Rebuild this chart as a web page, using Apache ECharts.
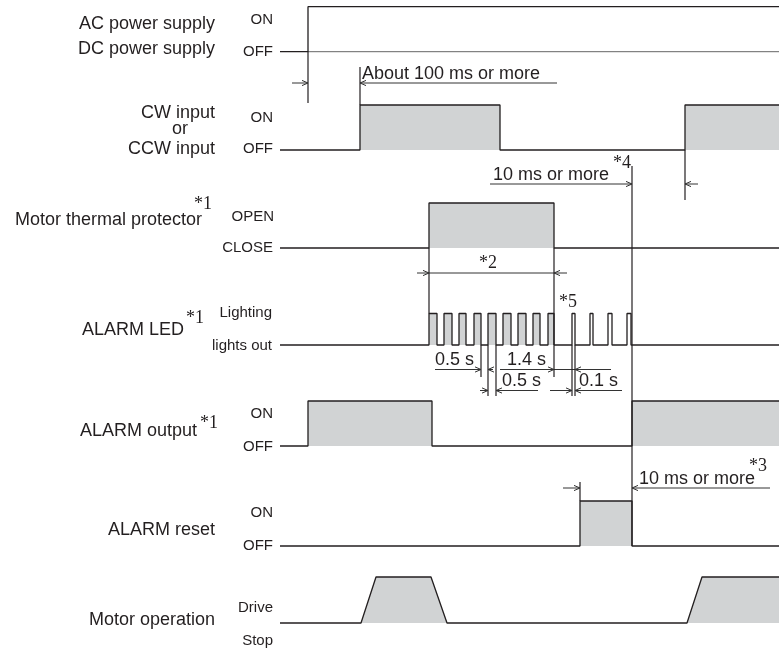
<!DOCTYPE html>
<html><head><meta charset="utf-8">
<script src="https://cdn.jsdelivr.net/npm/echarts@6/dist/echarts.min.js"></script>
<style>html,body{margin:0;padding:0;background:#fff}#c{width:779px;height:650px}</style>
</head><body><div id="c"></div>
<script>
// ================= DATA (time in arbitrary units, level 0 = OFF / CLOSE / lights out / Stop, 1 = ON / OPEN / Lighting / Drive)
const timeRange = [0, 499];
const acPower          = [[0,0],[28,0],[28,1],[499,1]];
const acPowerOffTrace  = [[28,0],[499,0]];
const cwInput          = [[0,0],[80,0],[80,1],[220,1],[220,0],[405,0],[405,1],[499,1]];
const thermalProtector = [[0,0],[149,0],[149,1],[274,1],[274,0],[499,0]];
const ledBlinkRises    = [149,164,179,194,208,223,238,253,268];
const ledBlinkFalls    = [157,172,186,201,216,231,246,260,274];
const ledFlashRises    = [292,310,328,347];
const ledFlashFalls    = [295,313,332,351];
const alarmOutput      = [[0,0],[28,0],[28,1],[152,1],[152,0],[352,0],[352,1],[499,1]];
const alarmReset       = [[0,0],[300,0],[300,1],[352,1],[352,0],[499,0]];
const motorOperation   = [[0,0],[81,0],[96,1],[151,1],[167,0],[407,0],[422,1],[499,1]];

// dimension annotations: times of arrow tips / extents and their texts
const dimTexts = ['About 100 ms or more','10 ms or more','*4','*2','0.5 s','1.4 s','0.5 s','0.1 s','*5','10 ms or more','*3'];

// ================= LAYOUT
const INK = '#231f20', FILL = '#d1d3d4';
const rows = {
  ac:{base:51.7,h:45}, cw:{base:150,h:45}, th:{base:248,h:45}, led:{base:345,h:31.5},
  out:{base:446,h:45}, rst:{base:546,h:45}, mot:{base:623,h:46}
};
// horizontal dimension lines [tStart, tEnd, y]
const dimLines = [[12,28,83],[80,277,83],[210,352,184],[405,418,184],[137,287,273],
  [155,201,369.5],[208,213,369.5],[220,331,369.5],[200,208,390.5],[216,258,390.5],[270,292,390.5],[295,342,390.5],
  [283,300,488],[352,490,488]];
// arrow tips [t, y, dir]
const arrows = [[28,83,1],[80,83,-1],[352,184,1],[405,184,-1],[149,273,1],[274,273,-1],
  [201,369.5,1],[208,369.5,-1],[274,369.5,1],[295,369.5,-1],[208,390.5,1],[216,390.5,-1],[292,390.5,1],[295,390.5,-1],
  [300,488,1],[352,488,-1]];
// extension lines [t, y1, y2]
const guides = [[28,51.7,103],[80,67,105],[405,150,200],[352,166,546],[149,248,313.5],[274,248,377],
  [201,345,377],[208,345,396],[216,345,396],[292,345,396],[295,345,396],[300,482,501]];
// text positions [t, yMiddle, font]
const SANS = "18px 'Liberation Sans', Arial, Helvetica, sans-serif";
const SERIF = "18px 'Liberation Serif', 'Times New Roman', serif";
const dimTextPos = [[82,74,SANS],[213,175,SANS],[333,163,SERIF],[199,263,SERIF],[155,360,SANS],[227,360,SANS],[222,381,SANS],[299,381,SANS],[279,302,SERIF],[359,479,SANS],[469,466,SERIF]];

function toY(row, pts){ return pts.map(p => [p[0], row.base - p[1]*row.h]); }
function stepPts(rises, falls, t0, t1){
  const pts = [[t0,0]];
  rises.forEach((r,i) => { pts.push([r,0],[r,1],[falls[i],1],[falls[i],0]); });
  if (t1 !== undefined) pts.push([t1,0]);
  return pts;
}
function sig(row, pts, fill, color, width){
  return {type:'line', data:toY(row, pts), symbol:'none', animation:false, silent:true, z:3,
    lineStyle:{color:color||INK, width:width||1.3},
    areaStyle: fill ? {color:FILL, opacity:1, origin:row.base} : undefined};
}

const ledBlink = stepPts(ledBlinkRises, ledBlinkFalls, 0);
const ledFlash = stepPts(ledFlashRises, ledFlashFalls, ledBlinkFalls[ledBlinkFalls.length-1], timeRange[1]);

const annotation = {
  type:'custom', data:[[0,0]], animation:false, silent:true, z:5, clip:false,
  renderItem: function(params, api){
    const ch = [];
    dimLines.forEach(d => {
      const a = api.coord([d[0], d[2]]), b = api.coord([d[1], d[2]]);
      ch.push({type:'line', shape:{x1:a[0],y1:a[1],x2:b[0],y2:b[1]}, style:{stroke:'#333',lineWidth:1}});
    });
    guides.forEach(g => {
      const a = api.coord([g[0], g[1]]), b = api.coord([g[0], g[2]]);
      ch.push({type:'line', shape:{x1:a[0],y1:a[1],x2:b[0],y2:b[1]}, style:{stroke:INK,lineWidth:1.2}});
    });
    arrows.forEach(r => {
      const p = api.coord([r[0], r[1]]), d = r[2];
      ch.push({type:'polyline', shape:{points:[[p[0]-6*d,p[1]-2.6],[p[0],p[1]],[p[0]-6*d,p[1]+2.6]]}, style:{stroke:'#333',fill:null,lineWidth:1}});
    });
    dimTexts.forEach((t,i) => {
      const pos = dimTextPos[i], p = api.coord([pos[0], pos[1]]);
      ch.push({type:'text', style:{text:t, x:p[0], y:p[1], font:pos[2], fill:INK, textAlign:'left', textVerticalAlign:'middle'}});
    });
    return {type:'group', children:ch};
  }
};

// left-side labels [text, x, y, align, kind]
const L = 'l', S = 's', R = 'r';
const labels = [
  ['AC power supply',215,24,'right',L],['DC power supply',215,49,'right',L],['ON',273,20,'right',S],['OFF',273,52,'right',S],
  ['CW input',215,113,'right',L],['or',180,129,'center',L],['CCW input',215,149,'right',L],['ON',273,118,'right',S],['OFF',273,149,'right',S],
  ['Motor thermal protector',202,220,'right',L],['*1',194,204,'left',R],['OPEN',274,217,'right',S],['CLOSE',273,248,'right',S],
  ['ALARM LED',184,330,'right',L],['*1',186,318,'left',R],['Lighting',272,313,'right',S],['lights out',272,346,'right',S],
  ['ALARM output',197,431,'right',L],['*1',200,423,'left',R],['ON',273,414,'right',S],['OFF',273,447,'right',S],
  ['ALARM reset',215,530,'right',L],['ON',273,513,'right',S],['OFF',273,546,'right',S],
  ['Motor operation',215,620,'right',L],['Drive',273,608,'right',S],['Stop',273,641,'right',S]
];
const fonts = {l:SANS, s:"15px 'Liberation Sans', Arial, Helvetica, sans-serif", r:SERIF};
const graphic = labels.map(a => ({type:'text', silent:true, style:{text:a[0], x:a[1], y:a[2], font:fonts[a[4]], fill:INK, textAlign:a[3], textVerticalAlign:'middle'}}));

const chart = echarts.init(document.getElementById('c'));
chart.setOption({
  animation:false,
  backgroundColor:'#fff',
  grid:{left:280, right:0, top:0, bottom:0, containLabel:false},
  xAxis:{type:'value', min:timeRange[0], max:timeRange[1], show:false},
  yAxis:{type:'value', min:0, max:650, inverse:true, show:false},
  graphic: graphic,
  series:[
    sig(rows.ac, acPowerOffTrace, false, '#666', 1),
    sig(rows.ac, acPower, false),
    sig(rows.cw, cwInput, true),
    sig(rows.th, thermalProtector, true),
    sig(rows.led, ledBlink, true),
    sig(rows.led, ledFlash, false),
    sig(rows.out, alarmOutput, true),
    sig(rows.rst, alarmReset, true),
    sig(rows.mot, motorOperation, true),
    annotation
  ]
});
</script>
</body></html>
